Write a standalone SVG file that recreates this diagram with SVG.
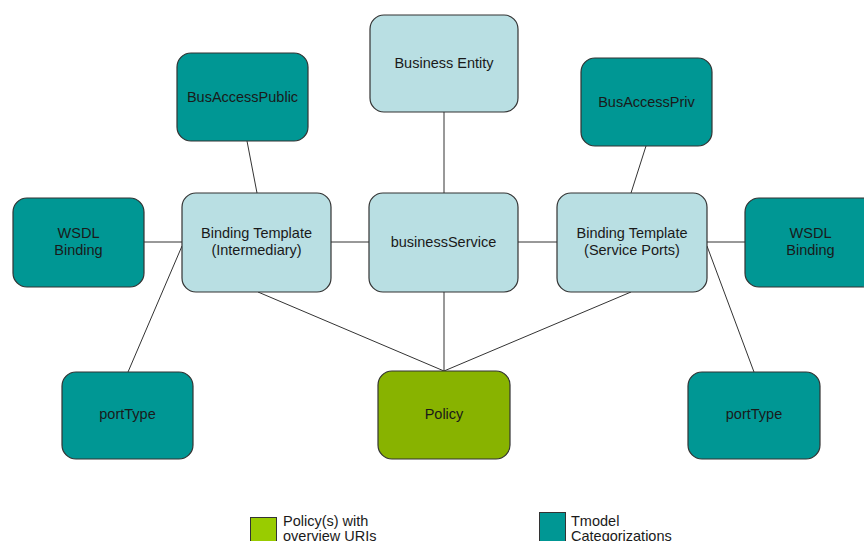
<svg xmlns="http://www.w3.org/2000/svg" width="864" height="541" viewBox="0 0 864 541">
  <style>
    .node { stroke: #333333; stroke-width: 1.2; }
    .teal { fill: #009794; }
    .light { fill: #b9dfe3; }
    .policy { fill: #88b300; }
    .lbl { font-family: "Liberation Sans", Arial, sans-serif; font-size: 14.5px; fill: #1a1a1a; text-anchor: middle; }
    .leg { font-family: "Liberation Sans", Arial, sans-serif; font-size: 14.5px; fill: #1a1a1a; }
    .edge { stroke: #333333; stroke-width: 1; fill: none; }
  </style>
  <rect width="864" height="541" fill="#ffffff"/>

  <!-- connectors -->
  <g id="connectors">
    <line class="edge" x1="247" y1="141" x2="257" y2="193"/>
    <line class="edge" x1="444" y1="112" x2="444" y2="193"/>
    <line class="edge" x1="646" y1="146" x2="631" y2="193"/>
    <line class="edge" x1="144" y1="242" x2="182" y2="242"/>
    <line class="edge" x1="331" y1="242" x2="369" y2="242"/>
    <line class="edge" x1="518" y1="242" x2="557" y2="242"/>
    <line class="edge" x1="707" y1="242" x2="745" y2="242"/>
    <line class="edge" x1="182" y1="246" x2="128" y2="372"/>
    <line class="edge" x1="707" y1="246" x2="754" y2="372"/>
    <line class="edge" x1="258" y1="292" x2="444" y2="371"/>
    <line class="edge" x1="444" y1="292" x2="444" y2="371"/>
    <line class="edge" x1="631" y1="292" x2="444" y2="371"/>
  </g>

  <g id="business-entity">
    <rect class="node light" x="370" y="15" width="148" height="97" rx="14"/>
    <text class="lbl" x="444" y="68">Business Entity</text>
  </g>
  <g id="bus-access-public">
    <rect class="node teal" x="177" y="53" width="131" height="88" rx="14"/>
    <text class="lbl" x="242.5" y="101.5">BusAccessPublic</text>
  </g>
  <g id="bus-access-priv">
    <rect class="node teal" x="581" y="58" width="131" height="88" rx="14"/>
    <text class="lbl" x="646.5" y="106.5">BusAccessPriv</text>
  </g>
  <g id="wsdl-binding-left">
    <rect class="node teal" x="13" y="198" width="131" height="89" rx="14"/>
    <text class="lbl" x="78.5" y="238">WSDL</text>
    <text class="lbl" x="78.5" y="255">Binding</text>
  </g>
  <g id="binding-template-intermediary">
    <rect class="node light" x="182" y="193" width="149" height="99" rx="14"/>
    <text class="lbl" x="256.5" y="238">Binding Template</text>
    <text class="lbl" x="256.5" y="255">(Intermediary)</text>
  </g>
  <g id="business-service">
    <rect class="node light" x="369" y="193" width="149" height="99" rx="14"/>
    <text class="lbl" x="443.5" y="246.5">businessService</text>
  </g>
  <g id="binding-template-service-ports">
    <rect class="node light" x="557" y="193" width="150" height="99" rx="14"/>
    <text class="lbl" x="632" y="238">Binding Template</text>
    <text class="lbl" x="632" y="255">(Service Ports)</text>
  </g>
  <g id="wsdl-binding-right">
    <rect class="node teal" x="745" y="198" width="131" height="89" rx="14"/>
    <text class="lbl" x="810.5" y="238">WSDL</text>
    <text class="lbl" x="810.5" y="255">Binding</text>
  </g>
  <g id="port-type-left">
    <rect class="node teal" x="62" y="372" width="131" height="87" rx="14"/>
    <text class="lbl" x="127.5" y="419">portType</text>
  </g>
  <g id="policy">
    <rect class="node policy" x="378" y="371" width="132" height="88" rx="14"/>
    <text class="lbl" x="444" y="419">Policy</text>
  </g>
  <g id="port-type-right">
    <rect class="node teal" x="688" y="372" width="132" height="87" rx="14"/>
    <text class="lbl" x="754" y="419">portType</text>
  </g>

  <!-- legend -->
  <g id="legend">
    <rect x="250.5" y="517.5" width="26" height="30" fill="#99cc00" stroke="#333333" stroke-width="1"/>
    <text class="leg" x="283" y="526">Policy(s) with</text>
    <text class="leg" x="283" y="541">overview URIs</text>
    <rect x="539.5" y="512.5" width="26" height="30" fill="#009794" stroke="#333333" stroke-width="1"/>
    <text class="leg" x="571" y="526">Tmodel</text>
    <text class="leg" x="571" y="541">Categorizations</text>
  </g>
</svg>
